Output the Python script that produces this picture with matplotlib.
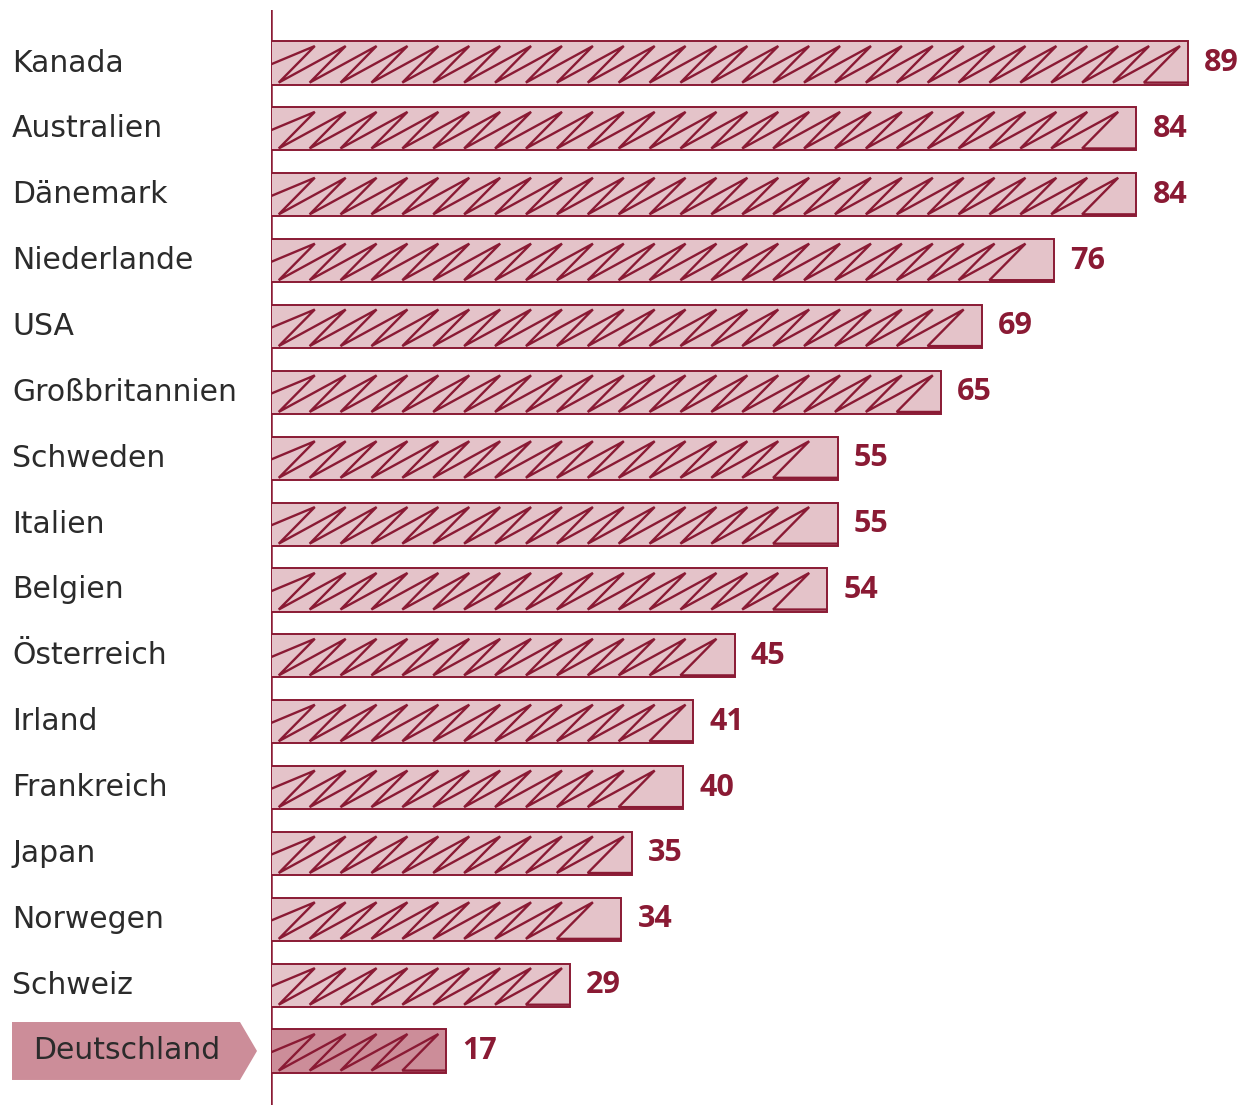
import matplotlib
matplotlib.use("Agg")
import matplotlib.pyplot as plt
from matplotlib.transforms import blended_transform_factory
from matplotlib.patches import Polygon
import numpy as np

countries = ["Kanada", "Australien", "Dänemark", "Niederlande", "USA",
             "Großbritannien", "Schweden", "Italien", "Belgien", "Österreich",
             "Irland", "Frankreich", "Japan", "Norwegen", "Schweiz", "Deutschland"]
values = [89, 84, 84, 76, 69, 65, 55, 55, 54, 45, 41, 40, 35, 34, 29, 17]
highlight = "Deutschland"

W, H, DPI = 1245, 1105, 100
DARK = "#8a1a34"
FILL = "#e4c3c9"
FILL_HL = "#cc8d99"
TEXT = "#2b2b2b"
LABEL_FONT = ["DejaVu Sans"]
VALUE_FONT = ["Open Sans", "DejaVu Sans"]

fig = plt.figure(figsize=(W / DPI, H / DPI), dpi=DPI)
ax = fig.add_axes([271 / W, 0, 1 - 271 / W, 1 - 10 / H])
ax.set_xlim(0, (W - 271) / 10.3)
ax.set_ylim(15.82, -0.805)
ax.axis("off")

bar_h = 0.655
period, x0, back = 3.0, 4.25, 3.5  # zigzag styling (data units)
ytop_in, ybot_in = 0.07, 0.03

for i, (c, v) in enumerate(zip(countries, values)):
    fc = FILL_HL if c == highlight else FILL
    bars = ax.barh(i, v, height=bar_h, left=0, color=fc, edgecolor=DARK,
                   linewidth=1.4, zorder=2)
    rect = bars.patches[0]
    yt = i - bar_h / 2 + ytop_in
    yb = i + bar_h / 2 - ybot_in
    tops = x0 + period * np.arange(0, 100)
    tops = tops[tops <= v - 0.5]
    xs = [0]
    ys = [(yt + yb) / 2]
    for t in tops:
        xs += [t, t - back]
        ys += [yt, yb]
    xs.append(v)
    ys.append(yb)
    ln, = ax.plot(xs, ys, color=DARK, lw=1.7, zorder=3, solid_joinstyle="miter")
    ln.set_clip_path(rect)
    ax.text(v + 1.6, i, str(v), color=DARK, fontsize=22, fontweight="bold",
            va="center", ha="left", family=VALUE_FONT, zorder=4)

# axis line
ax.axvline(0, color=DARK, lw=1.8, zorder=1)

tr = blended_transform_factory(fig.transFigure, ax.transData)
for i, c in enumerate(countries):
    if c == highlight:
        x_l, x_r, x_tip = 12 / W, 240 / W, 257 / W
        hh = 0.44
        poly = Polygon([(x_l, i - hh), (x_r, i - hh), (x_tip, i), (x_r, i + hh), (x_l, i + hh)],
                       closed=True, transform=tr, facecolor=FILL_HL, edgecolor="none",
                       clip_on=False, zorder=1)
        ax.add_patch(poly)
        ax.text(33 / W, i, c, transform=tr, fontsize=21.5, color=TEXT, va="center",
                ha="left", family=LABEL_FONT, zorder=2)
    else:
        ax.text(12 / W, i, c, transform=tr, fontsize=21.5, color=TEXT, va="center",
                ha="left", family=LABEL_FONT)

fig.savefig("out.png", dpi=DPI, facecolor="white")
